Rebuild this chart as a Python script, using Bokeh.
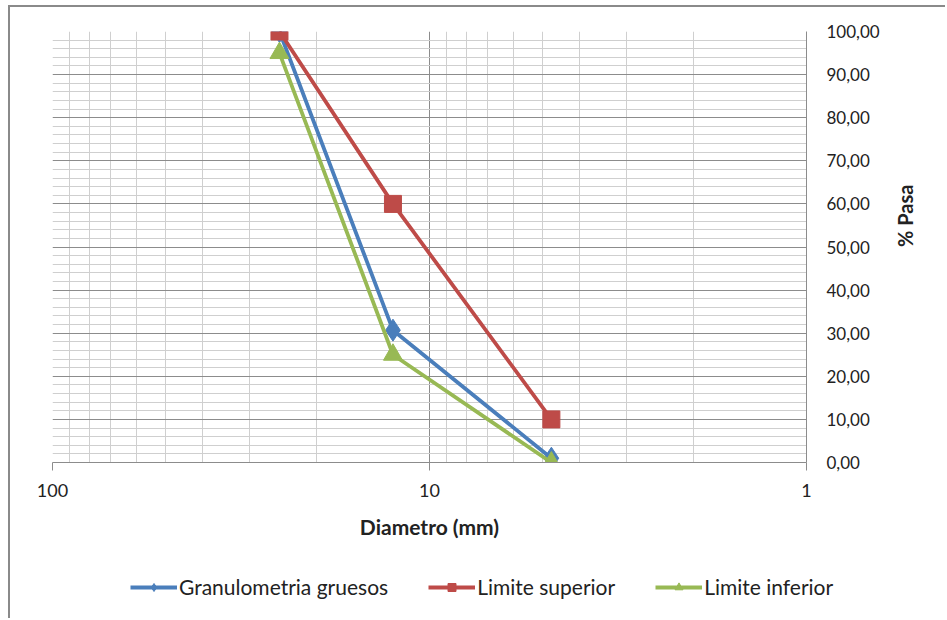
import math
from bokeh.plotting import figure
from bokeh.layouts import column, row
from bokeh.models import (FixedTicker, Range1d, Legend, LegendItem, LinearAxis,
                          CustomJSTickFormatter)
from bokeh.embed import file_html
from bokeh.resources import INLINE

# ---- data ----
sizes = [25, 12.5, 4.75]
granulometria = [100, 30.7, 1.0]
limite_superior = [100, 60, 10]
limite_inferior = [95, 25, 0]
series_names = ["Granulometria gruesos", "Limite superior", "Limite inferior"]

x_major = [1, 10, 100]
x_minor = [2, 3, 4, 5, 6, 7, 8, 9, 20, 30, 40, 50, 60, 70, 80, 90]
y_major = list(range(0, 101, 10))
y_minor = [v for v in range(0, 101, 2) if v % 10 != 0]

FONT = "Lato"
BORDER = "2px solid #8a8a8a"
blue, red, green = "#4A7EBB", "#BE4B48", "#98B954"

p = figure(width=937, height=563, x_axis_type="log",
           x_range=Range1d(100, 1), y_range=Range1d(0, 100),
           y_axis_location="right",
           output_backend="svg", toolbar_location=None,
           min_border_left=42, min_border_right=141,
           min_border_top=24, min_border_bottom=108)
p.margin = (5, 0, 0, 8)
p.styles = {"border-left": BORDER, "border-top": BORDER}
p.outline_line_color = None
p.background_fill_color = "white"
p.border_fill_color = "white"

# grids
xt = FixedTicker(ticks=x_major, minor_ticks=x_minor)
yt = FixedTicker(ticks=y_major, minor_ticks=y_minor)
p.xaxis.ticker = xt
p.yaxis.ticker = yt
p.xgrid.ticker = xt
p.ygrid.ticker = yt
for g in (p.xgrid[0], p.ygrid[0]):
    g.grid_line_color = "#8c8c8c"
    g.grid_line_width = 1
    g.minor_grid_line_color = "#cfcfcf"
    g.minor_grid_line_width = 1

# x axis
xa = p.xaxis[0]
xa.formatter = CustomJSTickFormatter(code="return String(Math.round(tick));")
xa.axis_line_color = "#8c8c8c"
xa.major_tick_line_color = "#8c8c8c"
xa.major_tick_out = 8
xa.major_tick_in = 0
xa.minor_tick_line_color = None
xa.major_label_text_font = FONT
xa.major_label_text_font_size = "18px"
xa.major_label_text_color = "#222222"
xa.major_label_standoff = 13
xa.axis_label = "Diametro (mm)"
xa.axis_label_text_font = FONT
xa.axis_label_text_font_style = "bold"
xa.axis_label_text_font_size = "21px"
xa.axis_label_text_color = "#222222"
xa.axis_label_standoff = 14

# y axis (right): tick labels
ya = p.yaxis[0]
ya.axis_line_color = "#8c8c8c"
ya.major_tick_line_color = None
ya.minor_tick_line_color = None
ya.major_tick_out = 0
ya.major_tick_in = 0
ya.formatter = CustomJSTickFormatter(code="return tick.toFixed(2).replace('.', ',');")
ya.major_label_text_font = FONT
ya.major_label_text_font_size = "17px"
ya.major_label_text_color = "#222222"
ya.major_label_standoff = 16

# y axis title, on a label-only axis so it reads bottom-to-top centred on the frame
ay2 = LinearAxis(ticker=FixedTicker(ticks=[]), bounds=(0, 85.8),
                 axis_line_color=None, major_tick_line_color=None,
                 minor_tick_line_color=None, major_tick_out=0, major_tick_in=0,
                 major_label_text_font_size="0px")
ay2.axis_label = "% Pasa"
ay2.axis_label_orientation = math.pi / 2
ay2.axis_label_text_font = FONT
ay2.axis_label_text_font_style = "bold"
ay2.axis_label_text_font_size = "20px"
ay2.axis_label_text_color = "#222222"
ay2.axis_label_standoff = 22
p.add_layout(ay2, "right")

# series
p.line(sizes, granulometria, line_color=blue, line_width=3.8)
p.scatter(sizes, granulometria, marker="diamond", size=22, fill_color=blue, line_color=blue)
p.line(sizes, limite_superior, line_color=red, line_width=3.8)
p.scatter(sizes, limite_superior, marker="square", size=17, fill_color=red, line_color=red)
p.line(sizes, limite_inferior, line_color=green, line_width=3.8)
p.scatter(sizes, limite_inferior, marker="triangle", size=19, fill_color=green, line_color=green)

# legend strip (separate canvas below the chart)
p2 = figure(width=937, height=50, x_range=Range1d(0, 1), y_range=Range1d(0, 1),
            x_axis_location=None, y_axis_location=None,
            output_backend="svg", toolbar_location=None,
            min_border_left=0, min_border_right=0, min_border_top=0, min_border_bottom=0)
p2.margin = (0, 0, 0, 8)
p2.styles = {"border-left": BORDER}
p2.grid.visible = False
p2.outline_line_color = None
p2.background_fill_color = "white"
p2.border_fill_color = "white"

items = []
for name, vals, col, mk, sz in [
        (series_names[0], granulometria, blue, "diamond", 22),
        (series_names[1], limite_superior, red, "square", 17),
        (series_names[2], limite_inferior, green, "triangle", 19)]:
    ln = p2.line(sizes, vals, line_color=col, line_width=3.8)
    sc = p2.scatter(sizes, vals, marker=mk, size=sz, fill_color=col, line_color=col)
    items.append(LegendItem(label=name, renderers=[ln, sc]))

legend = Legend(items=items, orientation="horizontal", location=(120, 19))
legend.padding = 0
legend.margin = 0
legend.spacing = 40
legend.glyph_width = 47
legend.glyph_height = 20
legend.label_standoff = 2
legend.border_line_color = None
legend.background_fill_alpha = 0
legend.label_text_font = FONT
legend.label_text_font_size = "21px"
legend.label_text_color = "#222222"
p2.add_layout(legend)

layout = column(p, row(p2), spacing=0)
open("out.html", "w").write(file_html(layout, INLINE))
